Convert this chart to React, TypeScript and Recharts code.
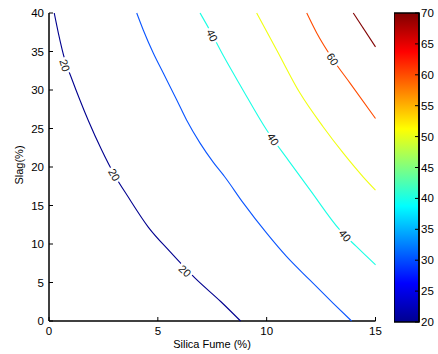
import React from "react";
import {
  Bar,
  BarChart,
  ComposedChart,
  Label,
  Scatter,
  XAxis,
  YAxis
} from "recharts";

type Pt = { x: number; y: number };
type ContourLabel = { x: number; y: number; text: string; angle: number };

// contour lines (Silica Fume %, Slag %)
const contour20: Pt[] = [
  { x: 0.24, y: 40 }, { x: 0.43, y: 37.4 }, { x: 0.73, y: 33.9 }, { x: 1.04, y: 31.5 },
  { x: 1.42, y: 28.7 }, { x: 1.81, y: 26.0 }, { x: 2.42, y: 22.2 }, { x: 3.0, y: 19.0 },
  { x: 3.64, y: 16.1 }, { x: 4.56, y: 12.2 }, { x: 5.56, y: 9.0 }, { x: 6.7, y: 5.6 },
  { x: 7.9, y: 2.5 }, { x: 8.8, y: 0 }
];
const contour30: Pt[] = [
  { x: 4.03, y: 40 }, { x: 4.33, y: 37.8 }, { x: 4.79, y: 34.8 }, { x: 5.25, y: 32.2 },
  { x: 5.87, y: 28.7 }, { x: 6.32, y: 26.1 }, { x: 6.94, y: 23.1 }, { x: 7.55, y: 20.6 },
  { x: 8.08, y: 18.7 }, { x: 8.93, y: 15.3 }, { x: 10.0, y: 11.4 }, { x: 10.92, y: 8.35 },
  { x: 11.99, y: 5.3 }, { x: 13.06, y: 2.3 }, { x: 13.9, y: 0 }
];
const contour40: Pt[] = [
  { x: 6.94, y: 40 }, { x: 7.4, y: 37.7 }, { x: 8.0, y: 34.5 }, { x: 8.85, y: 30.3 },
  { x: 10.0, y: 24.8 }, { x: 10.99, y: 20.9 }, { x: 12.0, y: 17.0 }, { x: 13.37, y: 11.8 },
  { x: 14.13, y: 9.65 }, { x: 15, y: 7.3 }
];
const contour50: Pt[] = [
  { x: 9.54, y: 40 }, { x: 10.46, y: 35.2 }, { x: 11.53, y: 29.6 }, { x: 12.6, y: 25.2 },
  { x: 13.52, y: 21.8 }, { x: 14.44, y: 18.7 }, { x: 15, y: 17.0 }
];
const contour60: Pt[] = [
  { x: 11.84, y: 40 }, { x: 12.3, y: 37.4 }, { x: 13.06, y: 33.9 }, { x: 13.83, y: 30.9 },
  { x: 15, y: 26.3 }
];
const contour70: Pt[] = [
  { x: 13.98, y: 40 }, { x: 15, y: 35.6 }
];

const contourLabels: ContourLabel[] = [
  { x: 0.73, y: 33.2, text: "20", angle: 73 },
  { x: 3.0, y: 19.0, text: "20", angle: 60 },
  { x: 6.25, y: 6.5, text: "20", angle: 43 },
  { x: 7.5, y: 37.1, text: "40", angle: 65 },
  { x: 10.3, y: 23.6, text: "40", angle: 57 },
  { x: 13.6, y: 11.1, text: "40", angle: 50 },
  { x: 13.03, y: 34.0, text: "60", angle: 56 }
];

const xTicks = [0, 5, 10, 15];
const yTicks = [0, 5, 10, 15, 20, 25, 30, 35, 40];
const barTicks = [20, 25, 30, 35, 40, 45, 50, 55, 60, 65, 70];
const colorbarData = [{ name: "cb", range: [20, 70] }];

const series = [
  { name: "20", data: contour20, color: "#00008f" },
  { name: "30", data: contour30, color: "#0a55ff" },
  { name: "40", data: contour40, color: "#1affe5" },
  { name: "50", data: contour50, color: "#f0ff10" },
  { name: "60", data: contour60, color: "#ff4c00" },
  { name: "70", data: contour70, color: "#800000" }
];

const font = "'Liberation Sans', Arial, sans-serif";
const tickStyle = { fontSize: 11.5, fill: "#000", fontFamily: font };

const LabelShape = (props: any) => {
  const { cx, cy, payload } = props;
  return (
    <g transform={`translate(${cx},${cy}) rotate(${payload.angle})`}>
      <rect x={-8} y={-5} width={16} height={10} fill="#fff" />
      <text x={0} y={0} textAnchor="middle" dominantBaseline="central" fontSize={11} fontFamily={font} fill="#111">
        {payload.text}
      </text>
    </g>
  );
};

export default function App() {
  return (
    <div style={{ position: "absolute", left: 0, top: 0, width: 438, height: 354, background: "#fff" }}>
      <div style={{ position: "absolute", left: 0, top: 0 }}>
        <ComposedChart width={438} height={354} margin={{ top: 13, right: 62.5, bottom: 0, left: 0 }}>
          <XAxis
            dataKey="x"
            type="number"
            domain={[0, 15]}
            ticks={xTicks}
            height={33}
            tickSize={-4}
            tickMargin={10}
            tick={tickStyle}
            stroke="#000"
            axisLine={{ stroke: "#000", strokeWidth: 1.5 }}
            tickLine={{ stroke: "#000" }}
          >
            <Label
              content={() => (
                <text x={212} y={344} textAnchor="middle" dominantBaseline="central" fontSize={11} fontFamily={font} fill="#000">
                  Silica Fume (%)
                </text>
              )}
            />
          </XAxis>
          <XAxis
            xAxisId="top"
            orientation="top"
            type="number"
            domain={[0, 15]}
            ticks={xTicks}
            height={0}
            tickSize={-4}
            tick={false}
            axisLine={{ stroke: "#000", strokeWidth: 1.5 }}
            tickLine={{ stroke: "#000" }}
          />
          <YAxis
            dataKey="y"
            type="number"
            domain={[0, 40]}
            ticks={yTicks}
            width={49}
            tickSize={-4}
            tickMargin={9}
            tick={tickStyle}
            axisLine={{ stroke: "#000", strokeWidth: 1.5 }}
            tickLine={{ stroke: "#000" }}
          >
            <Label
              content={() => (
                <text
                  x={19}
                  y={165}
                  transform="rotate(-90 19 165)"
                  textAnchor="middle"
                  dominantBaseline="central"
                  fontSize={11}
                  fontFamily={font}
                  fill="#000"
                >
                  Slag(%)
                </text>
              )}
            />
          </YAxis>
          <YAxis
            yAxisId="right"
            orientation="right"
            type="number"
            domain={[0, 40]}
            ticks={yTicks}
            width={0}
            tickSize={-4}
            tick={false}
            axisLine={{ stroke: "#000", strokeWidth: 1.5 }}
            tickLine={{ stroke: "#000" }}
          />
          {series.map((s) => (
            <Scatter
              key={s.name}
              data={s.data}
              line={{ stroke: s.color, strokeWidth: 1.1 }}
              lineJointType="monotoneX"
              shape={() => <g />}
              isAnimationActive={false}
            />
          ))}
          <Scatter data={contourLabels} shape={LabelShape} isAnimationActive={false} />
        </ComposedChart>
      </div>
      <div style={{ position: "absolute", left: 394, top: 0 }}>
        <BarChart
          width={44}
          height={354}
          data={colorbarData}
          margin={{ top: 13, right: 0, bottom: 32, left: 0 }}
          barCategoryGap={0}
        >
          <defs>
            <linearGradient id="jet" x1="0" y1="1" x2="0" y2="0">
              <stop offset="0" stopColor="#00008f" />
              <stop offset="0.125" stopColor="#0000ff" />
              <stop offset="0.375" stopColor="#00ffff" />
              <stop offset="0.625" stopColor="#ffff00" />
              <stop offset="0.875" stopColor="#ff0000" />
              <stop offset="1" stopColor="#800000" />
            </linearGradient>
          </defs>
          <XAxis dataKey="name" hide />
          <YAxis
            yAxisId="l"
            orientation="left"
            type="number"
            domain={[20, 70]}
            ticks={barTicks}
            width={0}
            tickSize={-4}
            tick={false}
            axisLine={{ stroke: "#000", strokeWidth: 1.5 }}
            tickLine={{ stroke: "#000" }}
          />
          <YAxis
            orientation="right"
            type="number"
            domain={[20, 70]}
            ticks={barTicks}
            width={19}
            tickSize={-4}
            tickMargin={6}
            tick={tickStyle}
            axisLine={{ stroke: "#000", strokeWidth: 1.5 }}
            tickLine={{ stroke: "#000" }}
          />
          <Bar dataKey="range" fill="url(#jet)" stroke="#000" strokeWidth={1.5} isAnimationActive={false} />
        </BarChart>
      </div>
    </div>
  );
}
